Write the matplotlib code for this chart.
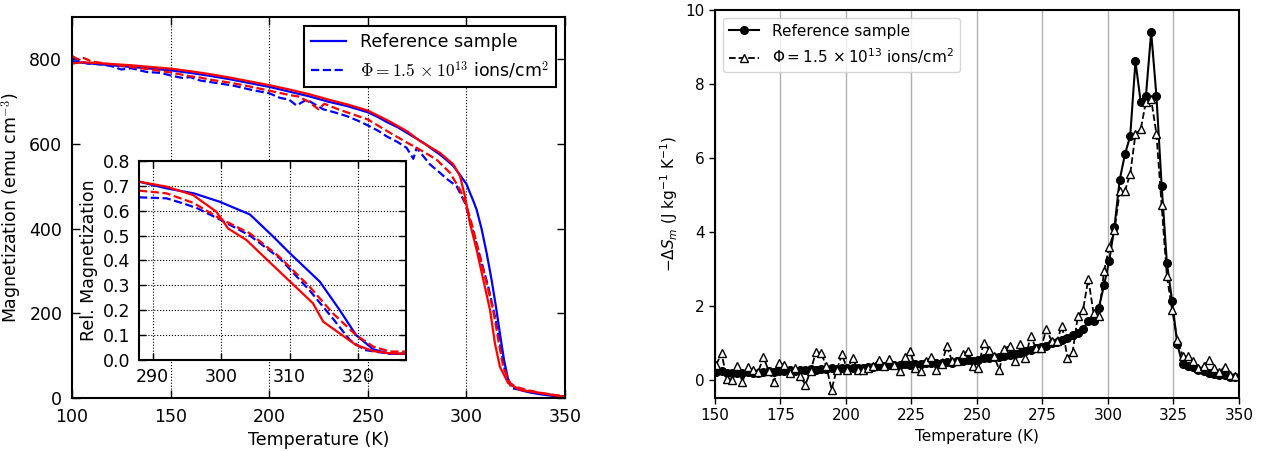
import numpy as np
import matplotlib
matplotlib.use('Agg')
import matplotlib.pyplot as plt
from matplotlib.font_manager import FontProperties

## MAGNETIZATION M(T), main panel
T_ref = [100, 105, 110, 120, 130, 140, 150, 160, 170, 180, 190, 200, 210, 220, 230, 240,
         250, 255, 260, 265, 270, 275, 278.2, 282, 286.6, 290, 293.4, 296, 298.4, 300,
         301.8, 303.5, 305.2, 307.8, 310.3, 312.8, 315, 317, 319.1, 321.2, 323, 325.5,
         328, 332.3, 337.3, 342, 346, 350]
M_ref = [796, 792, 790, 786, 782, 778, 774, 768, 761, 753, 744, 735, 724, 713, 700, 689,
         675, 664, 651, 640, 626, 612, 603, 590, 575, 562, 548, 532, 516, 506,
         485, 466, 445, 398, 342, 279, 216, 153, 90, 43, 30, 23,
         18, 13, 9, 6, 4, 2]

T_irr = [100, 104, 108, 115, 120, 125, 130, 138, 145, 150, 156, 160, 165, 172, 181.7,
         191.8, 200, 205.5, 210, 213.9, 219, 227.4, 233, 239.3, 245, 250, 255, 259.6,
         265, 269.7, 273.1, 274.8, 278.2, 281.5, 286.6, 290, 295.1, 299.3, 302.7, 306.9,
         311.1, 314.5, 317, 319.5, 322.9, 329, 335, 340, 345, 350]
M_irr = [805, 795, 790, 788, 784, 776, 779, 770, 768, 762, 756, 758, 750, 745, 738,
         727, 720, 709, 705, 691, 705, 682, 675, 666, 655, 644, 632, 618,
         605, 591, 565, 591, 571, 552, 532, 518, 500, 461, 405, 334,
         263, 192, 129, 66, 23, 18, 13, 9, 6, 3]

T_ref2 = [100, 105, 110, 120, 130, 140, 150, 160, 170, 180, 190, 200, 210, 220, 230, 240,
          250, 260, 270, 276.5, 286.6, 293.4, 296.8, 299.3, 301.8, 305.2, 308.6, 312,
          314.5, 317, 321.2, 327.2, 337.3, 345, 350]
M_ref2 = [790, 793, 792, 789, 786, 782, 778, 772, 765, 757, 748, 739, 729, 718, 705, 693,
          679, 656, 630, 607, 579, 552, 524, 476, 413, 350, 279, 208,
          129, 74, 35, 19, 12, 6, 3]

T_irr2 = [100, 103, 106, 110, 120, 130, 140, 150, 160, 165, 170, 180, 190, 200, 210, 215,
          220, 225, 228, 235, 240, 250, 260, 270, 278.2, 284.9, 291.7, 296.8, 300.2,
          303.5, 306.9, 310.3, 313.6, 316.2, 318.7, 322.1, 326, 330.6, 338, 345, 350]
M_irr2 = [808, 800, 803, 795, 788, 782, 776, 769, 760, 757, 752, 745, 736, 726, 716, 712,
          700, 682, 695, 682, 674, 658, 630, 603, 582, 563, 532, 492, 453,
          398, 334, 271, 208, 137, 74, 35, 25, 19, 12, 7, 4]

## RELATIVE MAGNETIZATION, inset
Ti_ref = [288, 292, 296, 299.8, 304.2, 307.6, 310, 314.4, 317.3, 319.7, 322.2, 324.6, 327]
R_ref = [0.717, 0.69, 0.67, 0.636, 0.585, 0.496, 0.43, 0.315, 0.201, 0.10, 0.043, 0.025, 0.025]

Ti_irr = [288, 292, 294.4, 296.5, 299.8, 304.2, 308.5, 312.9, 316.3, 318.8, 321, 324.6, 327]
R_irr = [0.654, 0.65, 0.63, 0.61, 0.565, 0.50, 0.41, 0.28, 0.167, 0.08, 0.04, 0.025, 0.025]

Ti_ref2 = [288, 292, 295.9, 299.3, 301, 303.7, 308, 313.4, 314.9, 317.3, 319.7, 322.2, 324.6, 327]
R_ref2 = [0.717, 0.697, 0.663, 0.596, 0.529, 0.482, 0.369, 0.228, 0.154, 0.107, 0.060, 0.036, 0.027, 0.025]

Ti_irr2 = [288, 292, 295.9, 299.8, 304.2, 308.5, 312.9, 316.3, 319.7, 322.2, 324.6, 327]
R_irr2 = [0.681, 0.67, 0.632, 0.569, 0.509, 0.415, 0.295, 0.188, 0.10, 0.054, 0.034, 0.034]

## ENTROPY CHANGE, right panel
T_s = [150.5, 152.5, 154.5, 156.5, 158.5, 160.5, 162.5, 164.5, 166.5, 168.5,
       170.5, 172.5, 174.5, 176.5, 178.5, 180.5, 182.5, 184.5, 186.5, 188.5,
       190.5, 192.5, 194.5, 196.5, 198.5, 200.5, 202.5, 204.5, 206.5, 208.5,
       210.5, 212.5, 214.5, 216.5, 218.5, 220.5, 222.5, 224.5, 226.5, 228.5,
       230.5, 232.5, 234.5, 236.5, 238.5, 240.5, 242.5, 244.5, 246.5, 248.5,
       250.5, 252.5, 254.5, 256.5, 258.5, 260.5, 262.5, 264.5, 266.5, 268.5,
       270.5, 272.5, 274.5, 276.5, 278.5, 280.5, 282.5, 284.5, 286.5, 288.5,
       290.5, 292.5, 294.5, 296.5, 298.5, 300.5, 302.5, 304.5, 306.5, 308.5,
       310.5, 312.5, 314.5, 316.5, 318.5, 320.5, 322.5, 324.5, 326.5, 328.5,
       330.5, 332.5, 334.5, 336.5, 338.5, 340.5, 342.5, 344.5, 346.5, 348.5]
dS_ref = [0.20, 0.22, 0.18, 0.17, 0.19, 0.18, 0.20, 0.17, 0.19, 0.21,
          0.22, 0.20, 0.24, 0.23, 0.25, 0.24, 0.26, 0.25, 0.28, 0.27,
          0.29, 0.28, 0.30, 0.29, 0.31, 0.30, 0.32, 0.31, 0.30, 0.33,
          0.35, 0.37, 0.36, 0.39, 0.38, 0.40, 0.41, 0.40, 0.42, 0.41,
          0.44, 0.45, 0.44, 0.46, 0.47, 0.46, 0.49, 0.50, 0.52, 0.51,
          0.54, 0.57, 0.58, 0.60, 0.62, 0.64, 0.67, 0.70, 0.73, 0.77,
          0.81, 0.85, 0.88, 0.92, 0.98, 1.02, 1.08, 1.13, 1.20, 1.26,
          1.37, 1.58, 1.58, 1.94, 2.55, 3.22, 4.14, 5.41, 6.10, 6.59,
          8.61, 7.51, 7.68, 9.40, 7.68, 5.24, 3.15, 2.12, 0.95, 0.41,
          0.37, 0.33, 0.26, 0.22, 0.19, 0.16, 0.13, 0.11, 0.08, 0.06]
dS_irr = [0.40, 0.72, 0.02, 0.00, 0.36, -0.06, 0.35, 0.27, 0.20, 0.61,
          0.23, -0.06, 0.45, 0.38, 0.18, 0.32, 0.09, -0.14, 0.23, 0.74,
          0.72, 0.36, -0.27, 0.27, 0.68, 0.27, 0.59, 0.27, 0.25, 0.32,
          0.36, 0.54, 0.36, 0.56, 0.38, 0.23, 0.60, 0.77, 0.30, 0.23,
          0.50, 0.60, 0.27, 0.42, 0.90, 0.50, 0.50, 0.68, 0.77, 0.36,
          0.30, 0.99, 0.81, 0.63, 0.27, 0.83, 0.92, 0.50, 0.97, 0.59,
          1.17, 0.86, 0.86, 1.37, 1.04, 1.04, 1.46, 0.59, 0.74, 1.71,
          1.89, 2.72, 1.80, 1.71, 2.93, 3.59, 4.04, 5.09, 5.11, 5.56,
          6.64, 6.77, 7.52, 7.58, 6.65, 4.71, 2.79, 1.89, 1.06, 0.65,
          0.63, 0.50, 0.32, 0.36, 0.54, 0.32, 0.20, 0.34, 0.11, 0.09]

lab_ref = 'Reference sample'
lab_irr = r'$\Phi = 1.5\,\times 10^{13}$ ions/cm$^2$'

fig = plt.figure(figsize=(12.65, 4.51), dpi=100)

# left: M(T) with inset
ax1 = fig.add_axes([0.0569, 0.1175, 0.3897, 0.8448])
l1, = ax1.plot(T_ref, M_ref, color='blue', lw=1.6, label=lab_ref)
l2, = ax1.plot(T_irr, M_irr, color='blue', lw=1.6, ls='--', label=lab_irr)
ax1.plot(T_ref2, M_ref2, color='red', lw=1.6)
ax1.plot(T_irr2, M_irr2, color='red', lw=1.6, ls='--')
ax1.set_xlim(100, 350)
ax1.set_ylim(0, 900)
ax1.set_xticks([100, 150, 200, 250, 300, 350])
ax1.set_yticks([0, 200, 400, 600, 800])
ax1.tick_params(direction='in', top=True, right=True, length=6, width=1, labelsize=12.5, pad=7)
ax1.xaxis.grid(True, ls=':', color='k', lw=0.8)
for s in ax1.spines.values():
    s.set_linewidth(1.5)
ax1.set_xlabel('Temperature (K)', fontsize=12.5)
ax1.set_ylabel('Magnetization (emu cm$^{-3}$)', fontsize=12.5, math_fontfamily='cm')
leg1 = ax1.legend(handles=[l1, l2], loc='upper right', fancybox=False, edgecolor='k',
                  framealpha=1, prop=FontProperties(size=12.5, math_fontfamily='cm'))
leg1.get_frame().set_linewidth(1.5)

ax2 = fig.add_axes([0.1099, 0.2018, 0.2111, 0.4412])
ax2.plot(Ti_ref, R_ref, color='blue', lw=1.6)
ax2.plot(Ti_irr, R_irr, color='blue', lw=1.6, ls='--')
ax2.plot(Ti_ref2, R_ref2, color='red', lw=1.6)
ax2.plot(Ti_irr2, R_irr2, color='red', lw=1.6, ls='--')
ax2.set_xlim(288, 327)
ax2.set_ylim(0, 0.8)
ax2.set_xticks([290, 300, 310, 320])
ax2.set_yticks([0.0, 0.1, 0.2, 0.3, 0.4, 0.5, 0.6, 0.7, 0.8])
ax2.tick_params(direction='in', top=True, right=True, length=5, width=1, labelsize=12.5, pad=6)
ax2.grid(True, ls=':', color='k', lw=0.8)
for s in ax2.spines.values():
    s.set_linewidth(1.5)
ax2.set_ylabel('Rel. Magnetization', fontsize=12.5)

# right: entropy change
ax3 = fig.add_axes([0.5652, 0.1175, 0.4142, 0.8603])
ax3.plot(T_s, dS_ref, color='black', lw=1.5, marker='o', ms=5.5, label=lab_ref)
ax3.plot(T_s, dS_irr, color='black', lw=1.3, ls='--', marker='^', ms=6, mfc='white',
         mec='black', mew=1.0, label=lab_irr)
ax3.set_xlim(150, 350)
ax3.set_ylim(-0.5, 10)
ax3.set_xticks([150, 175, 200, 225, 250, 275, 300, 325, 350])
ax3.set_yticks([0, 2, 4, 6, 8, 10])
ax3.xaxis.grid(True, color='#b0b0b0', lw=1.0)
ax3.set_axisbelow(True)
ax3.tick_params(direction='out', length=4, width=1, labelsize=11)
for s in ax3.spines.values():
    s.set_linewidth(1.5)
ax3.set_xlabel('Temperature (K)', fontsize=11)
ax3.set_ylabel(r'$-\Delta S_m$ (J kg$^{-1}$ K$^{-1}$)', fontsize=11)
ax3.legend(loc='upper left', fontsize=11)

plt.savefig('out.png', dpi=100)
